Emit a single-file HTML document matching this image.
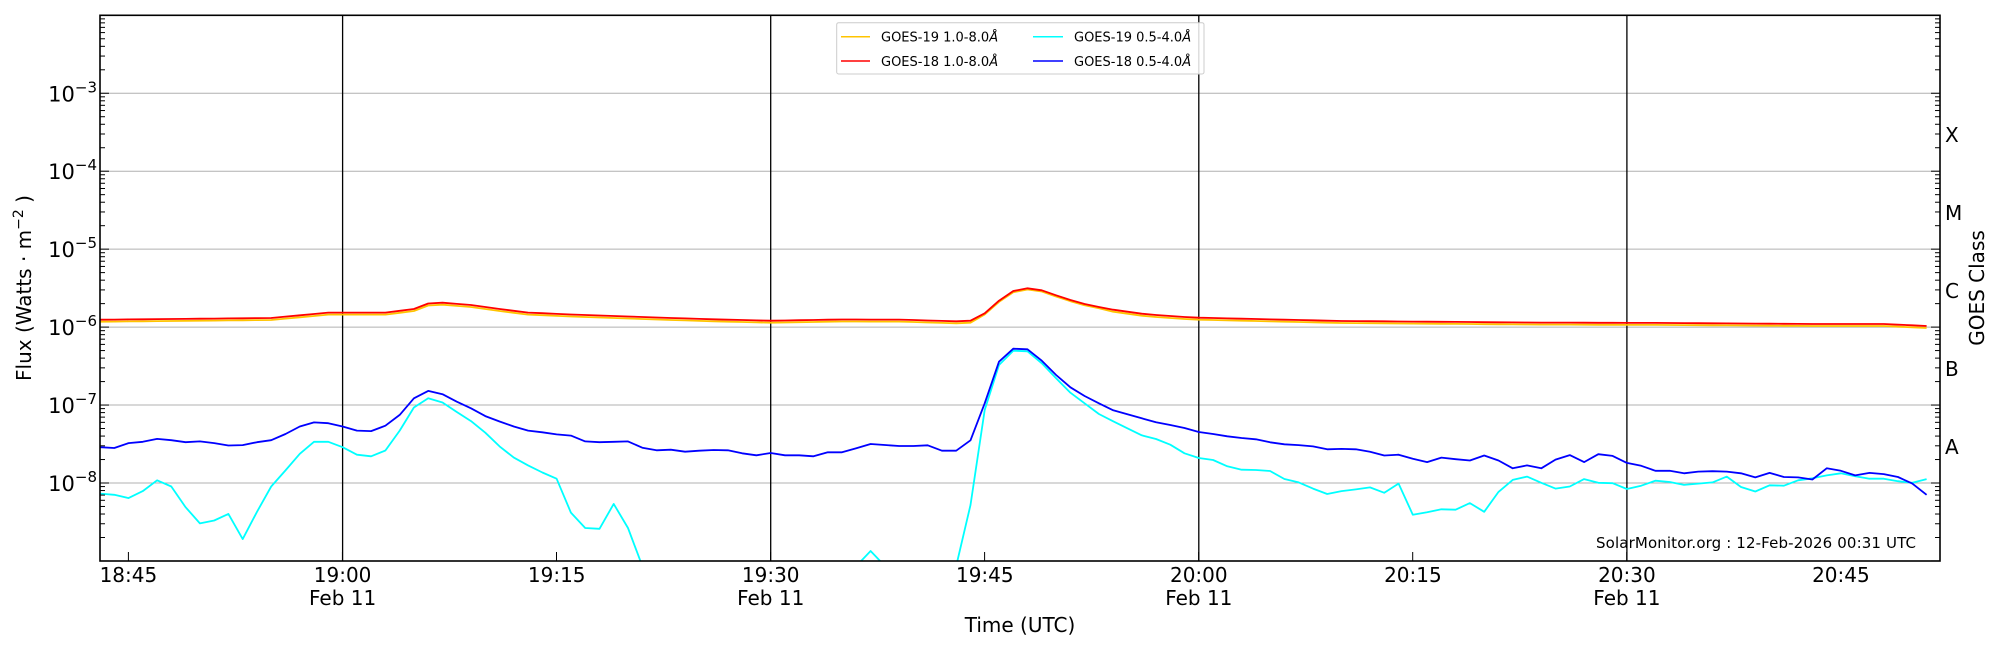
<!DOCTYPE html>
<html><head><meta charset="utf-8"><style>
html,body{margin:0;padding:0;background:#fff;}
svg{display:block;font-family:"DejaVu Sans","Liberation Sans",sans-serif;}
</style></head><body>
<svg id="s" width="2000" height="650" viewBox="0 0 2000 650" xmlns="http://www.w3.org/2000/svg">
<defs><clipPath id="c"><rect x="100" y="15.3" width="1840" height="545.7"/></clipPath></defs>
<g id="grid"></g>
<g id="vl" stroke="#000" stroke-width="1.3">
<line x1="342.6" y1="15.3" x2="342.6" y2="561"/>
<line x1="770.7" y1="15.3" x2="770.7" y2="561"/>
<line x1="1198.8" y1="15.3" x2="1198.8" y2="561"/>
<line x1="1626.9" y1="15.3" x2="1626.9" y2="561"/>
</g>
<g clip-path="url(#c)" fill="none" stroke-width="1.8" stroke-linejoin="round">
<polyline id="or" stroke="#ffc400"/>
<polyline id="rd" stroke="#ff0000"/>
<polyline id="cy" stroke="#00ffff"/>
<polyline id="bl" stroke="#0000ff"/>
</g>
<g id="ticks" stroke="#000" stroke-width="1"></g>
<rect x="100" y="15.3" width="1840" height="545.7" fill="none" stroke="#000" stroke-width="1.6"/>
<g id="ylab" font-size="21" text-anchor="end"></g>
<g font-size="20" text-anchor="middle">
<text x="128.4" y="582">18:45</text>
<text x="342.6" y="582">19:00</text><text x="342.6" y="605">Feb 11</text>
<text x="556.7" y="582">19:15</text>
<text x="770.7" y="582">19:30</text><text x="770.7" y="605">Feb 11</text>
<text x="984.8" y="582">19:45</text>
<text x="1198.8" y="582">20:00</text><text x="1198.8" y="605">Feb 11</text>
<text x="1412.9" y="582">20:15</text>
<text x="1626.9" y="582">20:30</text><text x="1626.9" y="605">Feb 11</text>
<text x="1840.9" y="582">20:45</text>
<text x="1020" y="632">Time (UTC)</text>
<text transform="translate(31,288) rotate(-90)">Flux (Watts · m<tspan dy="-8" font-size="14">−2</tspan><tspan dy="8"> </tspan>)</text>
<text transform="translate(1984,288) rotate(-90)">GOES Class</text>
</g>
<g font-size="20">
<text x="1945" y="142">X</text>
<text x="1945" y="220">M</text>
<text x="1945" y="298">C</text>
<text x="1945" y="376">B</text>
<text x="1945" y="454">A</text>
</g>
<text x="1596" y="548" font-size="15" textLength="320">SolarMonitor.org : 12-Feb-2026 00:31 UTC</text>
<g>
<rect x="836.7" y="22.7" width="367.3" height="51.3" fill="#fff" fill-opacity="0.85" stroke="#ccc" rx="2"/>
<line x1="841" y1="36.7" x2="870" y2="36.7" stroke="#ffc400" stroke-width="1.5"/>
<line x1="841" y1="61" x2="870" y2="61" stroke="#ff0000" stroke-width="1.5"/>
<line x1="1033" y1="36.7" x2="1063" y2="36.7" stroke="#00ffff" stroke-width="1.5"/>
<line x1="1033" y1="61" x2="1063" y2="61" stroke="#0000ff" stroke-width="1.5"/>
<g font-size="13">
<text x="881" y="41.5">GOES-19 1.0-8.0<tspan font-style="italic">Å</tspan></text>
<text x="881" y="66">GOES-18 1.0-8.0<tspan font-style="italic">Å</tspan></text>
<text x="1074" y="41.5">GOES-19 0.5-4.0<tspan font-style="italic">Å</tspan></text>
<text x="1074" y="66">GOES-18 0.5-4.0<tspan font-style="italic">Å</tspan></text>
</g>
</g>
</svg>
<script>
(function(){
var NS="http://www.w3.org/2000/svg";
function X(m){return 100+14.27*m;}
var D=77.95, top=15.3;
function Y(e){return top+(-2-e)*D;}
var grid=document.getElementById('grid'), ticks=document.getElementById('ticks'), yl=document.getElementById('ylab');
function ln(g,x1,y1,x2,y2,st){var l=document.createElementNS(NS,'line');l.setAttribute('x1',x1);l.setAttribute('y1',y1);l.setAttribute('x2',x2);l.setAttribute('y2',y2);if(st)l.setAttribute('stroke',st);g.appendChild(l);}
for(var e=-3;e>=-8;e--){ln(grid,100,Y(e),1940,Y(e),'#b0b0b0');
 var t=document.createElementNS(NS,'text');t.setAttribute('x',97);t.setAttribute('y',Y(e)+8);
 t.innerHTML='10<tspan dy="-9" font-size="15">−'+(-e)+'</tspan>';yl.appendChild(t);}
for(var e=-2;e>=-9;e--){var y=Y(e);
 if(y<=561.5){ln(ticks,100,y,109,y);ln(ticks,1940,y,1931,y);}
 for(var k=2;k<=9;k++){var yy=y+Math.log10(k)*(-D)+0;yy=Y(e-1+Math.log10(k));
  if(yy>15.3&&yy<561){ln(ticks,100,yy,105,yy);ln(ticks,1940,yy,1935,yy);}}}
for(var i=0;i<8;i++){var x=128.4+214.05*i;ln(ticks,x,561,x,552);}
function pts(arr){return arr.map(function(p){return X(p[0]).toFixed(1)+','+p[1].toFixed(1)}).join(' ');}
var z1b=[1080,1082,1070,1067,1060,1063,1068,1066,1070,1076,1075,1068,1063,1048,1030,1020,1022,1030,1040,1041,1028,1002,962,944,952,970,986,1005,1018,1030,1040,1044,1049,1052,1066,1068,1067,1066];
var z3b=[563,571,569,575,572,570,571,580,586,579,586,586,589,577,577,565,552,555,558,558,556,572,572,541,430,305,266,268,302,345,382,408,430,451,463,475,487,495,504,516,522,529,534,538,547,553];
var z2b=[1075,1078,1085,1084,1085,1091,1100,1098,1108,1116,1105,1109,1112,1100,1112,1131,1124,1131,1110,1099,1116,1097,1101,1118,1125,1137,1137,1143,1139,1138,1139,1143,1153,1142,1152,1153,1158,1131,1137,1148,1142,1145,1152,1168,1195];
var b=[];z1b.forEach(function(v,i){b.push([i,v/2.415]);});
z3b.forEach(function(v,i){b.push([38+i,260+v/3]);});
z2b.forEach(function(v,i){b.push([84+i,v/2.415]);});
document.getElementById('bl').setAttribute('points',pts(b));
var z1c=[1192,1195,1203,1186,1160,1175,1225,1264,1257,1241,1302,1236,1175,1136,1096,1067,1067,1080,1098,1102,1088,1040,984,962,972,995,1017,1045,1078,1105,1124,1141,1156,1238,1275,1277,1217,1275];
var z3c=[735,450,315,272,274,310,355,398,430,462,484,505,526,537,554,580,594,600,619,629,630,633,657];
var z2c=[1165,1180,1193,1186,1182,1177,1190,1168,1243,1237,1230,1231,1215,1236,1188,1159,1151,1166,1180,1175,1157,1166,1167,1181,1173,1161,1164,1171,1168,1165,1151,1176,1187,1172,1173,1160,1155,1148,1143,1150,1156,1156,1162,1166,1157];
var c=[];z1c.forEach(function(v,i){c.push([i,v/2.415]);});
for(var m=38;m<=60;m++)c.push([m,m==54?551:566]);
z3c.forEach(function(v,i){c.push([61+i,260+v/3]);});
z2c.forEach(function(v,i){c.push([84+i,v/2.415]);});
document.getElementById('cy').setAttribute('points',pts(c));
var k=[[0,319.7],[12,318],[16,312.6],[20,312.6],[22,309],[23,303.5],[24,302.7],[26,305],[28,309],[30,312.6],[33,314.5],[36,316],[40,318],[44,319.7],[47,320.7],[52,319.5],[56,319.6],[60,321.3],[61,320.7],[62,313.3],[63,300.7],[64,291],[65,288.3],[66,290.3],[67,295.3],[68,300],[69,304],[70,307],[71,309.7],[72,311.7],[73,313.7],[74,315],[75,316],[76,317],[77,317.7],[87,321],[100,322.5],[110,323],[120,324],[125,324],[128,326]];
var r=[],o=[];
for(var m=0;m<=128;m++){var j=0;while(j<k.length-1&&k[j+1][0]<m)j++;var a=k[j],bb=k[Math.min(j+1,k.length-1)];
 var y=a[1];if(bb[0]>a[0])y=a[1]+(bb[1]-a[1])*(m-a[0])/(bb[0]-a[0]);if(m==a[0])y=a[1];
 r.push([m,y]);o.push([m,y+(m>=62&&m<=70?1.2:2)]);}
document.getElementById('rd').setAttribute('points',pts(r));
document.getElementById('or').setAttribute('points',pts(o));
})();
</script>
</body></html>
